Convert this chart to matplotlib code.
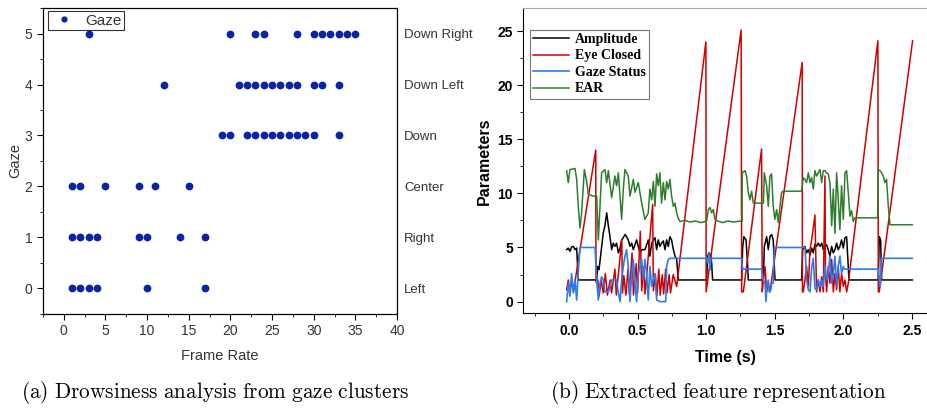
import numpy as np
import matplotlib
matplotlib.use("Agg")
import matplotlib.pyplot as plt
from matplotlib.ticker import MultipleLocator

# ---- (a) gaze clusters ----
gaze_labels = ["Left", "Right", "Center", "Down", "Down Left", "Down Right"]
frames_left = [1, 2, 3, 4, 10, 17]
frames_right = [1, 2, 3, 4, 9, 10, 14, 17]
frames_center = [1, 2, 5, 9, 11, 15]
frames_down = [19, 20, 22, 23, 24, 25, 26, 27, 28, 29, 30, 33]
frames_down_left = [12, 21, 22, 23, 24, 25, 26, 27, 28, 30, 31, 33]
frames_down_right = [3, 20, 23, 24, 28, 30, 31, 32, 33, 34, 35]

# ---- (b) extracted features ----
ear_t = [-0.017, -0.005, 0.007, 0.044, 0.056, 0.068, 0.080, 0.092, 0.112, 0.129, 0.141, 0.177,
         0.202, 0.214, 0.238, 0.262, 0.275, 0.287, 0.311, 0.335, 0.347, 0.360, 0.384, 0.396,
         0.408, 0.432, 0.445, 0.469, 0.481, 0.505, 0.530, 0.554, 0.578, 0.590, 0.603, 0.615,
         0.627, 0.639, 0.651, 0.663, 0.675, 0.688, 0.700, 0.712, 0.724, 0.736, 0.748, 0.761,
         0.773, 0.785, 0.797, 0.809, 0.85, 0.88, 0.92, 0.96, 1.003, 1.016, 1.028, 1.040, 1.052,
         1.064, 1.088, 1.12, 1.16, 1.20, 1.24, 1.262, 1.263, 1.283, 1.295, 1.307, 1.319, 1.331,
         1.344, 1.417, 1.424, 1.441, 1.453, 1.465, 1.477, 1.489, 1.501, 1.514, 1.526, 1.538,
         1.550, 1.562, 1.696, 1.708, 1.720, 1.732, 1.745, 1.757, 1.769, 1.781, 1.793, 1.805,
         1.817, 1.830, 1.842, 1.854, 1.866, 1.878, 1.890, 1.902, 1.910, 1.915, 1.927, 1.939,
         1.951, 1.963, 1.975, 1.987, 2.000, 2.012, 2.024, 2.036, 2.048, 2.060, 2.073, 2.085,
         2.250, 2.255, 2.267, 2.279, 2.291, 2.303, 2.315, 2.328, 2.340, 2.503]
ear_v = [12.1, 11.0, 12.2, 12.3, 11.3, 8.8, 6.8, 8.2, 12.2, 11.1, 9.9, 9.75,
         9.75, 5.7, 11.9, 12.2, 11.0, 12.1, 9.6, 11.6, 10.7, 11.9, 7.6, 10.4,
         12.2, 11.6, 9.75, 11.3, 10.1, 11.0, 9.1, 7.6, 8.2, 10.4, 9.4, 11.1,
         8.8, 11.8, 10.7, 11.9, 9.1, 11.0, 9.4, 11.1, 10.4, 11.3, 9.75, 8.8,
         9.1, 8.2, 7.7, 7.4, 7.5, 7.35, 7.45, 7.3, 7.43, 8.5, 8.7, 8.2, 8.5,
         7.6, 7.43, 7.3, 7.45, 7.35, 7.43, 7.43, 11.9, 12.1, 11.6, 10.1, 9.4, 10.2,
         9.1, 9.1, 11.9, 10.7, 8.8, 11.6, 11.8, 8.8, 7.6, 8.5, 7.3, 8.8,
         10.1, 10.2, 10.2, 11.45, 11.3, 11.0, 11.9, 11.0, 11.45, 10.4, 12.1, 11.6,
         11.9, 12.2, 11.0, 12.1, 12.1, 11.9, 11.8, 11.0, 8.8, 7.0, 10.4, 6.3,
         11.9, 9.4, 6.65, 10.7, 7.6, 11.9, 12.1, 10.1, 7.9, 8.4, 7.4, 7.74,
         7.74, 12.2, 12.1, 11.9, 11.6, 11.0, 11.3, 8.8, 7.1, 7.1]

amp_t = [-0.017, -0.005, 0.007, 0.019, 0.032, 0.044, 0.056, 0.068, 0.202, 0.209, 0.219, 0.233,
         0.250, 0.262, 0.275, 0.287, 0.299, 0.311, 0.323, 0.335, 0.347, 0.360, 0.372, 0.384,
         0.396, 0.408, 0.420, 0.432, 0.445, 0.457, 0.469, 0.481, 0.493, 0.505, 0.518, 0.530,
         0.542, 0.554, 0.578, 0.590, 0.603, 0.615, 0.627, 0.639, 0.651, 0.663, 0.675, 0.688,
         0.700, 0.712, 0.724, 0.736, 0.748, 0.761, 0.773, 0.785, 0.797, 1.003, 1.011, 1.020,
         1.033, 1.040, 1.047, 1.259, 1.266, 1.275, 1.291, 1.295, 1.303, 1.307, 1.417, 1.424,
         1.441, 1.453, 1.465, 1.477, 1.489, 1.497, 1.502, 1.696, 1.703, 1.720, 1.732, 1.745,
         1.757, 1.769, 1.781, 1.793, 1.805, 1.817, 1.830, 1.842, 1.854, 1.866, 1.878, 1.890,
         1.902, 1.915, 1.927, 1.939, 1.951, 1.963, 1.975, 1.987, 2.000, 2.012, 2.024, 2.036,
         2.041, 2.255, 2.262, 2.272, 2.279, 2.503]
amp_v = [4.8, 4.95, 4.65, 5.05, 5.1, 4.8, 4.95, 2.0, 2.0, 3.25, 2.95, 4.5,
         6.35, 7.0, 8.2, 7.0, 6.0, 4.8, 5.4, 5.1, 5.4, 4.5, 4.95, 5.7,
         5.9, 6.2, 6.0, 5.7, 5.1, 5.4, 4.8, 5.25, 5.7, 5.1, 4.5, 4.8,
         4.8, 4.8, 5.7, 4.2, 5.4, 5.7, 5.9, 4.8, 5.7, 5.1, 5.4, 5.6,
         4.8, 5.7, 5.1, 6.0, 5.7, 4.8, 4.2, 3.9, 2.0, 2.0, 4.2, 4.5,
         4.3, 3.6, 2.0, 2.0, 5.0, 6.0, 5.7, 4.8, 3.3, 2.0, 2.0, 5.1,
         6.0, 4.8, 6.0, 6.2, 5.7, 3.25, 2.0, 2.0, 4.8, 5.1, 4.5, 4.8,
         4.3, 4.95, 4.5, 5.3, 5.1, 5.4, 5.1, 5.4, 4.8, 5.1, 5.26, 4.8,
         4.2, 5.1, 4.5, 4.8, 5.4, 4.8, 5.1, 5.7, 4.95, 5.9, 6.0, 3.25,
         2.0, 2.0, 6.0, 5.7, 2.0, 2.0]

gaze_t = [-0.017, -0.005, 0.007, 0.019, 0.032, 0.044, 0.056, 0.068, 0.080, 0.190, 0.202, 0.214,
          0.226, 0.238, 0.250, 0.262, 0.287, 0.299, 0.311, 0.347, 0.360, 0.372, 0.384, 0.396,
          0.408, 0.420, 0.432, 0.445, 0.457, 0.469, 0.481, 0.493, 0.505, 0.518, 0.530, 0.542,
          0.554, 0.566, 0.578, 0.590, 0.603, 0.615, 0.627, 0.639, 0.663, 0.705, 0.712, 0.724,
          0.736, 1.003, 1.011, 1.020, 1.028, 1.035, 1.259, 1.266, 1.404, 1.417, 1.429, 1.436,
          1.443, 1.453, 1.460, 1.472, 1.477, 1.489, 1.497, 1.720, 1.725, 1.732, 1.745, 1.757,
          1.769, 1.781, 1.793, 1.805, 1.817, 1.830, 1.842, 1.854, 1.866, 1.878, 1.890, 1.902,
          1.915, 1.927, 1.939, 1.951, 1.963, 1.975, 1.987, 2.000, 2.007, 2.255, 2.262, 2.269,
          2.279, 2.503]
gaze_v = [0.0, 1.7, 0.5, 2.6, 0.8, 2.0, 0.15, 2.8, 5.0, 5.0, 2.0, 0.15,
          1.7, 2.3, 2.0, 0.9, 0.9, 1.4, 2.0, 2.0, 0.8, 0.0, 2.0, 3.25,
          4.2, 4.8, 3.25, 0.0, 2.6, 3.9, 1.7, 0.0, 2.6, 3.25, 3.9, 2.0,
          3.9, 2.6, 0.15, 3.25, 1.4, 2.0, 2.6, 0.15, 0.0, 0.0, 3.25, 3.9,
          4.0, 4.0, 3.6, 4.5, 2.9, 4.0, 4.0, 3.0, 3.0, 2.0, 1.7, 0.0,
          1.4, 2.0, 0.9, 1.1, 1.7, 1.7, 5.0, 5.0, 3.9, 2.0, 1.1, 0.9,
          3.1, 4.0, 1.2, 1.1, 2.0, 1.4, 2.0, 1.4, 3.25, 2.0, 2.6, 4.2,
          1.7, 2.6, 4.2, 1.4, 3.25, 4.2, 2.6, 3.25, 3.0, 3.0, 2.0, 1.4,
          4.0, 4.0]

eye_t = [-0.017, -0.005, 0.007, 0.019, 0.032, 0.195, 0.197, 0.21, 0.22, 0.235, 0.25, 0.265,
         0.28, 0.30, 0.31, 0.335, 0.345, 0.385, 0.39, 0.40, 0.415, 0.43, 0.44, 0.46,
         0.47, 0.49, 0.50, 0.52, 0.53, 0.545, 0.555, 0.61, 0.615, 0.63, 0.64, 0.655,
         0.665, 0.68, 0.69, 0.705, 0.715, 0.73, 0.74, 0.76, 0.785, 0.998, 1.000, 1.255,
         1.259, 1.271, 1.404, 1.409, 1.417, 1.429, 1.441, 1.453, 1.465, 1.700, 1.702, 1.708,
         1.720, 1.732, 1.745, 1.757, 1.769, 1.793, 1.805, 1.817, 1.830, 1.842, 1.854, 1.866,
         1.870, 1.878, 1.890, 1.902, 1.915, 1.927, 1.939, 1.951, 1.963, 1.975, 1.987, 2.000,
         2.012, 2.024, 2.036, 2.252, 2.255, 2.262, 2.505]
eye_v = [1.1, 2.0, 0.9, 2.0, 0.9, 14.0, 1.8, 2.0, 0.5, 2.0, 0.8, 2.6,
         0.6, 2.0, 0.8, 3.0, 0.6, 5.7, 0.8, 2.4, 0.6, 3.0, 0.7, 4.5,
         0.6, 3.5, 0.8, 6.5, 1.0, 3.2, 0.7, 9.0, 1.0, 2.5, 0.5, 3.0,
         0.6, 2.5, 0.7, 3.0, 0.8, 2.5, 0.8, 2.5, 1.4, 24.0, 0.9, 25.1,
         0.9, 0.9, 14.1, 0.9, 2.0, 3.25, 0.9, 1.7, 0.9, 22.1, 0.9, 0.9,
         2.0, 3.25, 1.4, 4.8, 5.7, 8.0, 0.9, 2.0, 0.9, 2.3, 0.9, 11.6,
         2.6, 0.9, 3.25, 1.7, 3.9, 0.9, 2.6, 1.1, 3.25, 0.9, 2.6, 1.4,
         2.0, 0.9, 1.7, 24.1, 0.9, 0.9, 24.1]

narrow = ["Liberation Sans Narrow", "Liberation Sans", "DejaVu Sans"]
grey = "#333333"

fig = plt.figure(figsize=(9.27, 4.08), dpi=100)

# left panel
ax1 = fig.add_axes([43 / 927, 1 - 313.5 / 408, (397 - 43) / 927, (313.5 - 8.3) / 408])
gaze_frames = [frames_left, frames_right, frames_center, frames_down, frames_down_left, frames_down_right]
all_x, all_y = [], []
for level, frames in enumerate(gaze_frames):
    all_x += frames
    all_y += [level] * len(frames)
ax1.plot(all_x, all_y, "o", color="#0b24a6", ms=4.6, mec="#0b24a6", label="Gaze")
ax1.set_xlim(-2.5, 40)
ax1.set_ylim(-0.5, 5.5)
ax1.xaxis.set_major_locator(MultipleLocator(5))
ax1.xaxis.set_minor_locator(MultipleLocator(2.5))
ax1.yaxis.set_major_locator(MultipleLocator(1))
ax1.yaxis.set_minor_locator(MultipleLocator(0.5))
ax1.tick_params(which="both", direction="out", labelsize=10, labelcolor=grey, right=False, top=False)
ax1.tick_params(which="major", length=4)
ax1.tick_params(which="minor", length=2.5)
for lb in ax1.get_xticklabels() + ax1.get_yticklabels():
    lb.set_family(narrow)
ax1.set_xlabel("Frame Rate", family=narrow, fontsize=10.5, color=grey, labelpad=8)
ax1.set_ylabel("Gaze", family=narrow, fontsize=10.5, color=grey, labelpad=2)
leg1 = ax1.legend(loc="upper left", bbox_to_anchor=(0.01, 0.995), fancybox=False, edgecolor="black",
                  prop={"family": narrow, "size": 11}, handletextpad=0.5, borderpad=0.15,
                  handlelength=1.8, borderaxespad=0.1, markerscale=0.75)
leg1.get_frame().set_linewidth(0.8)
for t in leg1.get_texts():
    t.set_color(grey)
ax1r = ax1.twinx()
ax1r.set_ylim(ax1.get_ylim())
ax1r.set_yticks(range(len(gaze_labels)))
ax1r.set_yticklabels(gaze_labels, family=narrow, fontsize=9.5, color=grey)
ax1r.tick_params(axis="y", length=0, pad=5)

# right panel
ax2 = fig.add_axes([523.3 / 927, 1 - 313.3 / 408, 1 - 523.3 / 927, (313.3 - 8.3) / 408])
ax2.plot(amp_t, amp_v, color="black", lw=1.1, label="Amplitude")
ax2.plot(eye_t, eye_v, color="#d10000", lw=1.1, label="Eye Closed")
ax2.plot(gaze_t, gaze_v, color="#2b7cf0", lw=1.2, label="Gaze Status")
ax2.plot(ear_t, ear_v, color="#2e7d2e", lw=1.1, label="EAR")
ax2.set_xlim(-0.333, 2.61)
ax2.set_ylim(-1.08, 27.1)
ax2.xaxis.set_major_locator(MultipleLocator(0.5))
ax2.xaxis.set_minor_locator(MultipleLocator(0.25))
ax2.yaxis.set_major_locator(MultipleLocator(5))
ax2.yaxis.set_minor_locator(MultipleLocator(2.5))
ax2.xaxis.set_major_formatter(matplotlib.ticker.FormatStrFormatter("%.1f"))
ax2.tick_params(which="both", direction="out", labelsize=10, right=False, top=False)
ax2.tick_params(which="major", length=4)
ax2.tick_params(which="minor", length=2.5)
for lb in ax2.get_xticklabels() + ax2.get_yticklabels():
    lb.set_family(narrow)
    lb.set_fontweight("bold")
ax2.spines["right"].set_visible(False)
ax2.spines["top"].set_color("#aaaaaa")
ax2.set_xlabel("Time (s)", family=narrow, fontsize=11.5, fontweight="bold", labelpad=9)
ax2.set_ylabel("Parameters", family=narrow, fontsize=11.5, fontweight="bold", labelpad=4)
leg2 = ax2.legend(loc="upper left", bbox_to_anchor=(0.012, 0.935), fancybox=False, edgecolor="#555555",
                  prop={"family": ["Liberation Serif", "DejaVu Serif"], "weight": "bold", "size": 10},
                  handlelength=2.6, handletextpad=0.4, borderpad=0.25, labelspacing=0.25,
                  borderaxespad=0.1)
leg2.get_frame().set_linewidth(0.8)

# captions
plt.rcParams["mathtext.fontset"] = "cm"
fig.text(215 / 927, 1 - 392 / 408, r"$\mathrm{(a)\ Drowsiness\ analysis\ from\ gaze\ clusters}$",
         ha="center", va="center", fontsize=15.3)
fig.text(718 / 927, 1 - 392 / 408, r"$\mathrm{(b)\ Extracted\ feature\ representation}$",
         ha="center", va="center", fontsize=15.3)

fig.savefig("out.png", dpi=100)
